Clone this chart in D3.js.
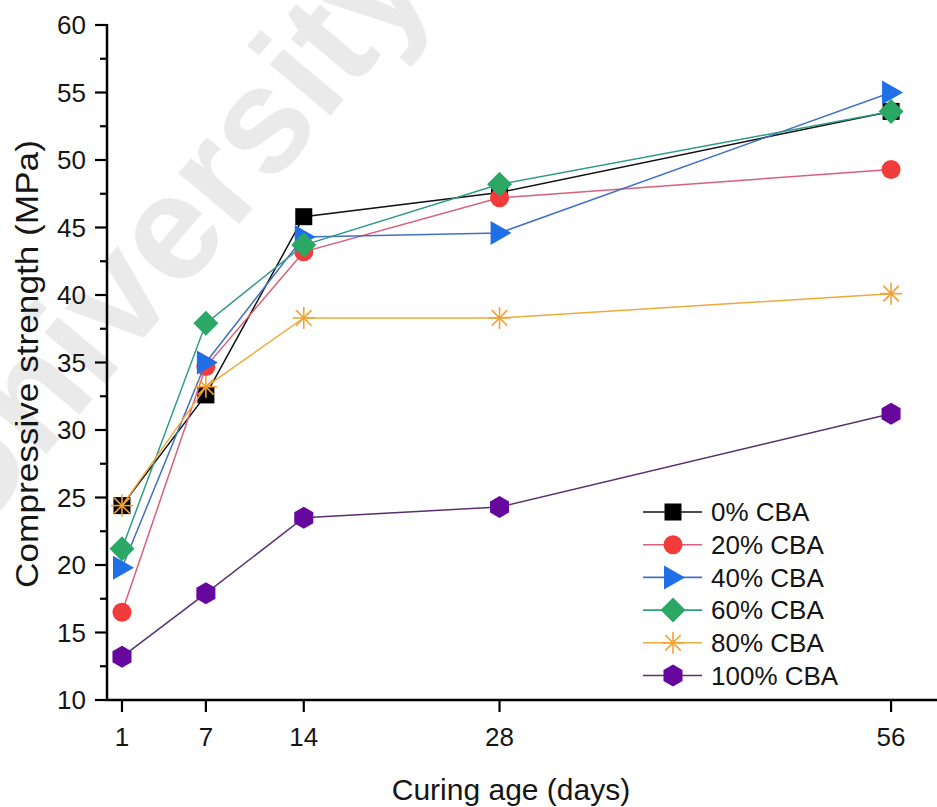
<!DOCTYPE html>
<html>
<head>
<meta charset="utf-8">
<script src="https://cdn.jsdelivr.net/npm/d3@7/dist/d3.min.js"></script>
<style>
  html, body { margin: 0; padding: 0; background: #fff; }
  svg { display: block; font-family: "Liberation Sans", Arial, sans-serif; }
</style>
</head>
<body>
<svg id="chart" width="937" height="807"></svg>
<script>
// Curing ages (days) and compressive strength (MPa) per CBA replacement level
const ages = [1, 7, 14, 28, 56];
const seriesNames = ["0% CBA", "20% CBA", "40% CBA", "60% CBA", "80% CBA", "100% CBA"];
const cba0   = [24.4, 32.6, 45.8, 47.6, 53.6];
const cba20  = [16.5, 34.7, 43.2, 47.2, 49.3];
const cba40  = [19.8, 35.0, 44.3, 44.6, 55.0];
const cba60  = [21.2, 37.9, 43.7, 48.2, 53.6];
const cba80  = [24.4, 33.2, 38.3, 38.3, 40.1];
const cba100 = [13.2, 17.9, 23.5, 24.3, 31.2];
const yTickValues = [10, 15, 20, 25, 30, 35, 40, 45, 50, 55, 60];
const xTickValues = [1, 7, 14, 28, 56];

const styles = [
  { line: "#111111", fill: "#000000", shape: "square" },
  { line: "#d9607a", fill: "#f23c3c", shape: "circle" },
  { line: "#4270c4", fill: "#1f6fe6", shape: "triangle" },
  { line: "#2f9a88", fill: "#2ba866", shape: "diamond" },
  { line: "#eeaa3a", fill: "#f5a030", shape: "star" },
  { line: "#58306f", fill: "#66089e", shape: "hexagon" }
];
const allValues = [cba0, cba20, cba40, cba60, cba80, cba100];

const svg = d3.select("#chart");

// Faint background lettering
svg.append("text")
  .attr("transform", "translate(-30,545) rotate(-50)")
  .attr("font-size", 150)
  .attr("font-weight", "bold")
  .attr("fill", "#eaeaea")
  .attr("font-family", "Liberation Sans, Arial, sans-serif")
  .text("University");

const x = d3.scaleLinear().domain([0, 60]).range([108, 947]);
const y = d3.scaleLinear().domain([10, 60]).range([700, 25]);

// Y axis with major (labelled) and minor ticks
const yAxis = svg.append("g").attr("transform", "translate(107,0)");
yAxis.append("line").attr("x1", 0).attr("x2", 0).attr("y1", y(60) - 1).attr("y2", y(10) + 1)
  .attr("stroke", "#000").attr("stroke-width", 2.5);
yTickValues.forEach(v => {
  yAxis.append("line").attr("x1", -12).attr("x2", 0).attr("y1", y(v)).attr("y2", y(v))
    .attr("stroke", "#000").attr("stroke-width", 2.2);
  yAxis.append("text").attr("x", -21).attr("y", y(v)).attr("dy", "0.36em")
    .attr("text-anchor", "end").attr("font-size", 26).attr("fill", "#151515").text(v);
});
d3.range(0, yTickValues.length - 1).forEach(i => {
  const v = (yTickValues[i] + yTickValues[i + 1]) / 2;
  yAxis.append("line").attr("x1", -7).attr("x2", 0).attr("y1", y(v)).attr("y2", y(v))
    .attr("stroke", "#000").attr("stroke-width", 2.2);
});

// X axis
const xAxis = svg.append("g").attr("transform", "translate(0,700)");
xAxis.append("line").attr("x1", 106).attr("x2", 937).attr("y1", 0).attr("y2", 0)
  .attr("stroke", "#000").attr("stroke-width", 2.5);
xTickValues.forEach(v => {
  xAxis.append("line").attr("x1", x(v)).attr("x2", x(v)).attr("y1", 0).attr("y2", 12)
    .attr("stroke", "#000").attr("stroke-width", 2.2);
  xAxis.append("text").attr("x", x(v)).attr("y", 46)
    .attr("text-anchor", "middle").attr("font-size", 26).attr("fill", "#151515").text(v);
});

// Axis titles
svg.append("text").attr("x", 511).attr("y", 800).attr("text-anchor", "middle")
  .attr("font-size", 30).attr("fill", "#151515").text("Curing age (days)");
svg.append("text").attr("transform", "translate(38,364) rotate(-90) scale(1.1,1)")
  .attr("text-anchor", "middle").attr("font-size", 32).attr("fill", "#151515")
  .text("Compressive strength (MPa)");

// Marker drawing
function drawMarker(g, shape, cx, cy, fill) {
  const s = g.append("g").attr("transform", `translate(${cx},${cy})`);
  if (shape === "square") {
    s.append("rect").attr("x", -8.5).attr("y", -8.5).attr("width", 17).attr("height", 17).attr("fill", fill);
  } else if (shape === "circle") {
    s.append("circle").attr("r", 9.5).attr("fill", fill);
  } else if (shape === "triangle") {
    s.append("path").attr("d", "M-9,-12 L12,0 L-9,12 Z").attr("fill", fill);
  } else if (shape === "diamond") {
    s.append("path").attr("d", "M0,-12.5 L12.5,0 L0,12.5 L-12.5,0 Z").attr("fill", fill);
  } else if (shape === "star") {
    const r = 11;
    [0, 45, 90, 135].forEach(a => {
      const rad = a * Math.PI / 180;
      s.append("line")
        .attr("x1", -r * Math.cos(rad)).attr("y1", -r * Math.sin(rad))
        .attr("x2", r * Math.cos(rad)).attr("y2", r * Math.sin(rad))
        .attr("stroke", fill).attr("stroke-width", 1.6);
    });
  } else if (shape === "hexagon") {
    const r = 11;
    const pts = d3.range(6).map(i => {
      const a = (Math.PI / 3) * i - Math.PI / 2;
      return [r * Math.cos(a), r * Math.sin(a)];
    });
    s.append("path").attr("d", "M" + pts.map(p => p.join(",")).join("L") + "Z").attr("fill", fill);
  }
}

const line = d3.line().x(d => x(d[0])).y(d => y(d[1]));
const plot = svg.append("g");
allValues.forEach((vals, i) => {
  const st = styles[i];
  const pts = ages.map((a, j) => [a, vals[j]]);
  const g = plot.append("g");
  g.append("path").attr("d", line(pts)).attr("fill", "none")
    .attr("stroke", st.line).attr("stroke-width", 1.5);
  pts.forEach(p => drawMarker(g, st.shape, x(p[0]), y(p[1]), st.fill));
});

// Legend
const legend = svg.append("g");
seriesNames.forEach((name, i) => {
  const st = styles[i];
  const ly = 512 + i * 32.7;
  legend.append("line").attr("x1", 643).attr("x2", 702).attr("y1", ly).attr("y2", ly)
    .attr("stroke", st.line).attr("stroke-width", 1.6);
  drawMarker(legend, st.shape, 673, ly, st.fill);
  legend.append("text").attr("x", 711).attr("y", ly).attr("dy", "0.36em")
    .attr("font-size", 26).attr("fill", "#151515").text(name);
});
</script>
</body>
</html>
